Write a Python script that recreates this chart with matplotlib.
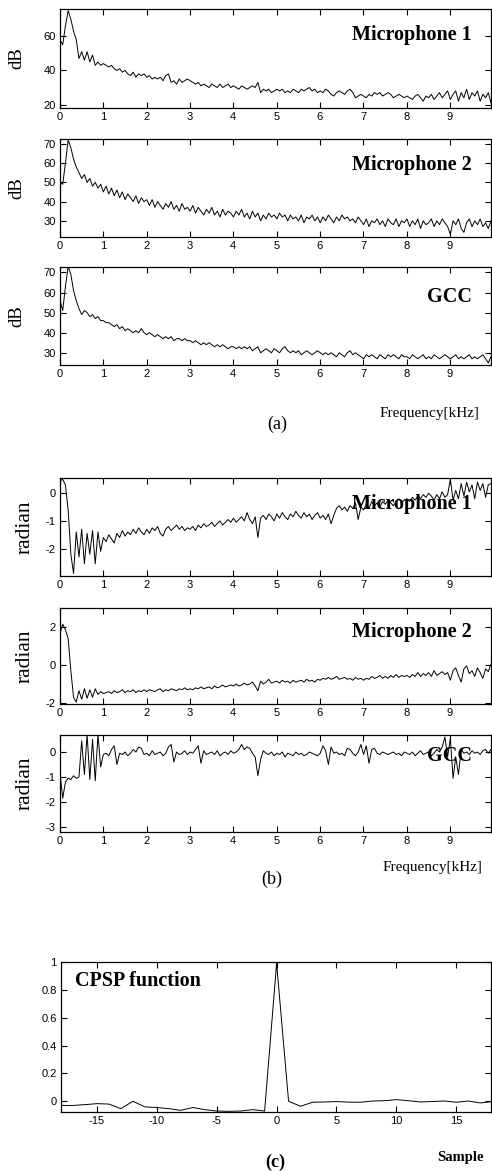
import numpy as np
import matplotlib
matplotlib.use("Agg")
import matplotlib.pyplot as plt

W, H = 492, 1171
DPI = 100

# 160 frequency bins, 0 .. 9.95 kHz
N_BINS = 160
F_MAX = 9.95

# (a) magnitude spectra [dB]
mic1_db = [58, 55, 66, 75, 70, 63, 58, 47, 51, 46, 51, 45, 49, 43, 45, 43,
           44, 43, 42, 43, 41, 40, 41, 39, 40, 38, 37, 39, 36, 38, 37, 38,
           36, 37, 35, 36, 35, 36, 34, 37, 38, 33, 34, 32, 35, 33, 34, 35,
           34, 33, 32, 33, 31, 32, 31, 30, 32, 31, 30, 32, 30, 31, 32, 30,
           31, 30, 29, 31, 30, 29, 30, 31, 30, 33, 27, 29, 28, 29, 27, 28,
           29, 28, 29, 27, 28, 27, 29, 28, 27, 29, 28, 29, 30, 28, 29, 27,
           28, 27, 29, 28, 26, 25, 27, 28, 27, 26, 28, 29, 27, 24, 25, 26,
           25, 24, 26, 25, 27, 26, 27, 25, 26, 27, 26, 24, 25, 26, 25, 24,
           25, 24, 23, 25, 26, 24, 22, 25, 24, 26, 23, 25, 27, 24, 26, 28,
           23, 26, 28, 22, 27, 24, 29, 23, 27, 25, 28, 22, 26, 24, 27, 21]

mic2_db = [50, 49, 60, 72, 68, 62, 58, 55, 52, 54, 50, 52, 48, 50, 47, 49,
           45, 48, 44, 47, 43, 46, 42, 45, 41, 44, 42, 40, 43, 39, 42, 40,
           41, 38, 41, 37, 40, 38, 36, 39, 37, 40, 36, 38, 35, 39, 36, 37,
           35, 38, 34, 37, 35, 33, 36, 34, 37, 33, 35, 32, 36, 33, 35, 34,
           32, 35, 33, 36, 32, 34, 31, 35, 32, 34, 30, 33, 31, 34, 32, 33,
           31, 34, 32, 33, 30, 33, 31, 32, 30, 33, 29, 32, 31, 33, 30, 32,
           29, 32, 30, 33, 31, 29, 32, 30, 33, 31, 32, 30, 31, 29, 32, 30,
           28, 31, 27, 30, 29, 31, 28, 30, 27, 31, 29, 28, 31, 27, 30, 29,
           31, 27, 30, 28, 31, 26, 30, 28, 29, 31, 27, 30, 28, 31, 29, 27,
           23, 30, 28, 31, 26, 24, 29, 31, 27, 30, 28, 31, 27, 29, 26, 30]

gcc_db = [56, 51, 63, 73, 69, 61, 56, 52, 49, 51, 50, 48, 49, 47, 48, 46,
          46, 45, 45, 44, 43, 44, 42, 43, 41, 42, 41, 40, 41, 40, 42, 40,
          39, 40, 39, 38, 39, 38, 37, 38, 37, 38, 36, 37, 37, 36, 37, 36,
          36, 35, 36, 35, 34, 35, 34, 35, 34, 33, 34, 33, 34, 33, 32, 33,
          33, 32, 33, 32, 33, 32, 33, 31, 32, 33, 30, 31, 32, 31, 30, 32,
          31, 30, 32, 33, 31, 30, 31, 30, 31, 29, 30, 31, 30, 29, 30, 31,
          30, 29, 30, 29, 30, 29, 28, 30, 29, 28, 30, 31, 29, 30, 29, 28,
          27, 29, 28, 29, 28, 27, 29, 28, 27, 29, 28, 29, 28, 27, 29, 28,
          28, 27, 29, 28, 27, 28, 29, 27, 28, 27, 29, 28, 27, 28, 29, 28,
          27, 28, 29, 27, 28, 27, 28, 29, 27, 28, 27, 28, 29, 27, 25, 28]

# (b) phase spectra [radian]
mic1_ph = [0.45, 0.50, 0.30, -0.60, -2.20, -2.90, -1.40, -2.30, -1.30, -2.55, -1.45, -2.20, -1.35, -2.55, -1.40, -2.10,
           -1.60, -1.75, -1.50, -1.65, -1.80, -1.45, -1.60, -1.35, -1.55, -1.40, -1.50, -1.30, -1.45, -1.25, -1.40, -1.50,
           -1.30, -1.45, -1.25, -1.35, -1.20, -1.45, -1.55, -1.30, -1.20, -1.35, -1.25, -1.15, -1.30, -1.20, -1.35, -1.25,
           -1.30, -1.20, -1.35, -1.15, -1.25, -1.10, -1.20, -1.15, -1.05, -1.20, -1.10, -1.00, -1.15, -1.05, -0.95, -1.05,
           -0.90, -1.05, -0.95, -0.85, -1.00, -0.70, -0.95, -1.10, -0.85, -1.60, -0.90, -0.80, -0.95, -0.75, -0.85, -1.00,
           -0.75, -0.90, -0.70, -0.85, -0.95, -0.75, -0.85, -0.65, -0.80, -0.90, -0.70, -0.85, -0.75, -0.95, -0.80, -0.70,
           -0.90, -0.80, -0.95, -0.75, -1.10, -0.80, -0.55, -0.45, -0.60, -0.50, -0.65, -0.45, -0.55, -0.35, -0.95, -0.50,
           -0.60, -0.40, -0.55, -0.30, -0.45, -0.35, -0.50, -0.30, -0.40, -0.25, -0.35, -0.45, -0.30, -0.20, -0.35, -0.25,
           -0.20, -0.30, -0.15, -0.25, -0.10, -0.20, -0.05, -0.15, 0.00, -0.10, -0.25, -0.05, -0.20, 0.05, -0.15, -0.05,
           0.50, -0.25, 0.10, -0.20, 0.35, -0.10, 0.40, 0.05, 0.30, -0.20, 0.40, 0.10, 0.35, -0.15, 0.30, 0.35]

mic2_ph = [1.65, 2.15, 1.85, 1.40, -0.30, -1.70, -1.95, -1.35, -1.80, -1.25, -1.75, -1.30, -1.70, -1.25, -1.55, -1.40,
           -1.50, -1.45, -1.40, -1.50, -1.35, -1.45, -1.40, -1.30, -1.45, -1.35, -1.40, -1.30, -1.45, -1.35, -1.40, -1.30,
           -1.40, -1.30, -1.35, -1.40, -1.30, -1.25, -1.40, -1.30, -1.35, -1.25, -1.30, -1.35, -1.25, -1.30, -1.20, -1.30,
           -1.25, -1.30, -1.20, -1.25, -1.15, -1.25, -1.20, -1.15, -1.25, -1.10, -1.20, -1.15, -1.05, -1.15, -1.10, -1.05,
           -1.10, -1.00, -1.10, -1.05, -0.95, -1.05, -1.00, -0.90, -1.10, -1.35, -0.85, -1.00, -0.90, -0.75, -0.95, -0.90,
           -0.85, -0.95, -0.80, -0.90, -0.85, -0.95, -0.80, -0.90, -0.85, -0.80, -0.90, -0.75, -0.85, -0.80, -0.90, -0.75,
           -0.80, -0.70, -0.75, -0.65, -0.75, -0.70, -0.60, -0.75, -0.70, -0.65, -0.75, -0.70, -0.80, -0.65, -0.75, -0.70,
           -0.80, -0.70, -0.75, -0.60, -0.70, -0.65, -0.55, -0.70, -0.60, -0.70, -0.55, -0.65, -0.50, -0.65, -0.55, -0.60,
           -0.55, -0.65, -0.50, -0.60, -0.40, -0.60, -0.45, -0.55, -0.40, -0.60, -0.30, -0.55, -0.45, -0.35, -0.50, -0.40,
           -0.80, -0.30, -0.15, -0.55, -0.90, -0.20, -0.05, -0.45, -0.30, -0.60, -0.15, -0.40, -0.70, -0.20, -0.35, 0.05]

gcc_ph = [-0.85, -1.85, -1.20, -1.05, -1.10, -0.95, -1.05, -1.00, 0.45, -0.90, 0.70, -1.10, 0.50, -1.15, 0.70, -0.60,
          -0.10, -0.05, -0.15, 0.10, 0.25, -0.50, -0.05, -0.10, 0.00, -0.15, -0.05, 0.10, 0.00, 0.20, 0.15, -0.10,
          -0.05, -0.15, 0.05, -0.10, -0.05, 0.00, -0.15, -0.05, 0.20, 0.30, -0.40, 0.00, -0.10, -0.05, 0.05, -0.10,
          0.00, -0.05, 0.10, 0.25, -0.45, 0.05, -0.10, -0.05, 0.00, -0.10, 0.05, -0.15, -0.05, 0.00, -0.10, 0.05,
          -0.05, 0.00, 0.10, 0.30, 0.10, 0.20, 0.15, -0.05, -0.20, -0.95, -0.30, 0.05, -0.05, -0.10, 0.00, -0.15,
          -0.05, -0.10, 0.00, -0.20, -0.05, -0.10, -0.15, 0.00, -0.10, -0.05, -0.15, -0.10, 0.00, -0.05, -0.10, -0.15,
          -0.05, 0.25, 0.05, -0.50, 0.20, -0.05, 0.00, -0.10, -0.05, -0.15, 0.15, 0.10, -0.05, -0.15, 0.00, 0.30,
          -0.10, 0.25, -0.45, 0.10, 0.15, -0.05, -0.10, 0.00, -0.05, -0.10, -0.05, 0.00, -0.10, -0.05, -0.15, 0.00,
          -0.05, -0.10, 0.00, -0.15, -0.05, 0.05, -0.10, -0.05, 0.00, -0.15, -0.05, 0.10, 0.00, 0.20, 0.60, -0.20,
          0.55, -1.05, -0.20, -0.90, 0.10, -0.05, 0.00, -0.10, 0.05, -0.05, 0.00, -0.10, 0.05, 0.10, -0.05, 0.10]

# (c) CPSP function, lags -18 .. 18
lags = list(range(-18, 19))
cpsp = [-0.03, -0.03, -0.024, -0.017, -0.02, -0.053, 0.0, -0.04, -0.045, -0.053,
        -0.065, -0.045, -0.06, -0.07, -0.072, -0.07, -0.06, -0.07, 0.99, 0.0,
        -0.036, -0.007, -0.005, -0.002, -0.006, -0.007, 0.002, 0.004, 0.012, 0.004,
        -0.005, -0.002, 0.002, -0.007, 0.002, -0.012, -0.002]

freq_ticks = [0, 1, 2, 3, 4, 5, 6, 7, 8, 9]
lag_ticks = [-15, -10, -5, 0, 5, 10, 15]
cpsp_ticks = [0, 0.2, 0.4, 0.6, 0.8, 1]
cpsp_ticklabels = ["0", "0.2", "0.4", "0.6", "0.8", "1"]

plt.rcParams['font.family'] = ['Liberation Sans', 'DejaVu Sans']
plt.rcParams['axes.unicode_minus'] = False
SERIF = ['Liberation Serif', 'DejaVu Serif']

fig = plt.figure(figsize=(W / DPI, H / DPI), dpi=DPI)
fig.patch.set_facecolor('white')


def px(x, y):
    return x / W, 1 - y / H


def add_panel(top, bottom, left=60, right=491):
    ax = fig.add_axes([left / W, 1 - bottom / H, (right - left) / W, (bottom - top) / H])
    ax.tick_params(direction='in', top=True, right=True, length=4, width=0.8,
                   labelsize=8, pad=3, colors='black')
    for s in ax.spines.values():
        s.set_linewidth(0.9)
    return ax


freq = np.linspace(0, F_MAX, N_BINS)

# panel layout: (data, top px, bottom px, ylim, yticks, title, title y px, ylabel)
panels = [
    (mic1_db, 9, 108, (18, 76), [20, 40, 60], "Microphone 1", 35, "dB"),
    (mic2_db, 139, 237, (21.6, 72.5), [30, 40, 50, 60, 70], "Microphone 2", 165, "dB"),
    (gcc_db, 267, 365, (23.9, 72.7), [30, 40, 50, 60, 70], "GCC", 297, "dB"),
    (mic1_ph, 478, 576, (-2.99, 0.55), [-2, -1, 0], "Microphone 1", 504, "radian"),
    (mic2_ph, 608, 704, (-2.05, 3.0), [-2, 0, 2], "Microphone 2", 632, "radian"),
    (gcc_ph, 735, 832, (-3.2, 0.68), [-3, -2, -1, 0], "GCC", 756, "radian"),
]

for vals, top, bottom, ylim, yticks, title, ty, ylab in panels:
    ax = add_panel(top, bottom)
    ax.plot(freq, vals, color='black', lw=0.7)
    ax.set_xlim(0, F_MAX)
    ax.set_ylim(*ylim)
    ax.set_xticks(freq_ticks)
    ax.set_yticks(yticks)
    fig.text(*px(472, ty), title, ha='right', va='center', fontsize=14.5,
             fontweight='bold', family=SERIF)
    if ylab == "dB":
        fig.text(*px(17, (top + bottom) / 2), ylab, rotation=90, ha='center',
                 va='center', fontsize=13.5, family=SERIF)
    else:
        fig.text(*px(25, (top + bottom) / 2), ylab, rotation=90, ha='center',
                 va='center', fontsize=15.5, family=SERIF)

# axis captions for (a) and (b)
fig.text(*px(429, 413), "Frequency[kHz]", ha='center', va='center', fontsize=11, family=SERIF)
fig.text(*px(277, 424), "(a)", ha='center', va='center', fontsize=13, family=SERIF)
fig.text(*px(432, 867), "Frequency[kHz]", ha='center', va='center', fontsize=11, family=SERIF)
fig.text(*px(272, 879), "(b)", ha='center', va='center', fontsize=13, family=SERIF)

# (c) CPSP
ax = add_panel(962, 1112, left=61)
ax.plot(lags, cpsp, color='black', lw=0.7)
ax.set_xlim(-18, 17.9)
ax.set_ylim(-0.077, 1.0)
ax.set_xticks(lag_ticks)
ax.set_yticks(cpsp_ticks)
ax.set_yticklabels(cpsp_ticklabels)
fig.text(*px(75, 981), "CPSP function", ha='left', va='center', fontsize=14.5,
         fontweight='bold', family=SERIF)
fig.text(*px(460, 1157), "Sample", ha='center', va='center', fontsize=10.5,
         fontweight='bold', family=SERIF)
fig.text(*px(275, 1162), "(c)", ha='center', va='center', fontsize=13,
         fontweight='bold', family=SERIF)

fig.savefig("out.png", dpi=DPI)
